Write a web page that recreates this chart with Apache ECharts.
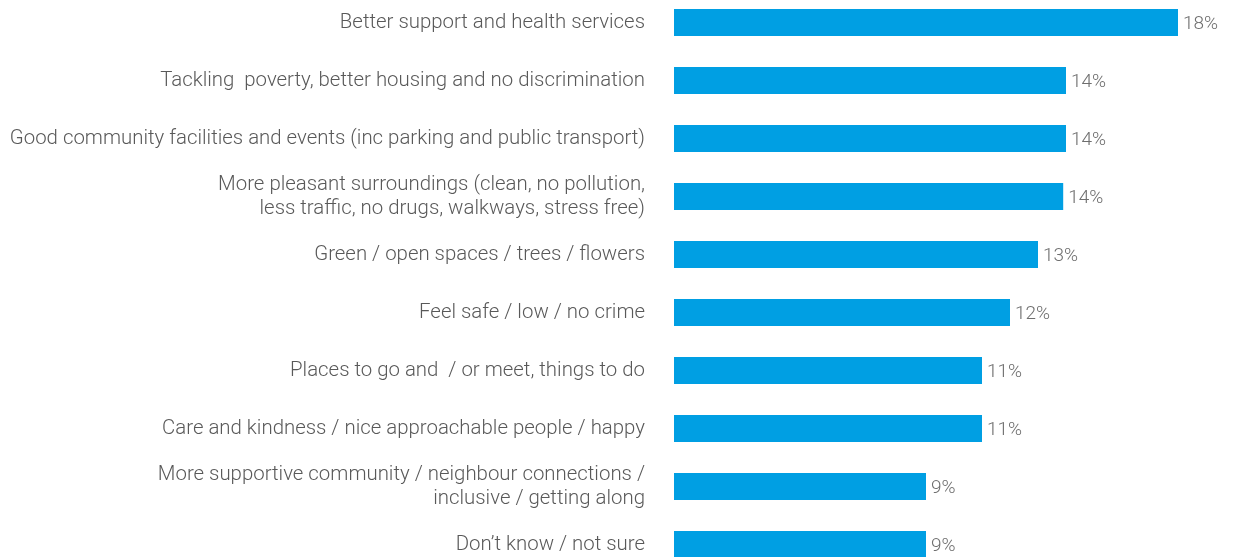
<!DOCTYPE html>
<html>
<head>
<meta charset="utf-8">
<script src="https://cdn.jsdelivr.net/npm/echarts@6/dist/echarts.min.js"></script>
<style>
  html, body { margin: 0; padding: 0; background: #ffffff; }
  #chart { width: 1233px; height: 557px; }
</style>
</head>
<body>
<div id="chart"></div>
<script>
const categories = [
  'Better support and health services',
  'Tackling  poverty, better housing and no discrimination',
  'Good community facilities and events (inc parking and public transport)',
  'More pleasant surroundings (clean, no pollution,\nless traffic, no drugs, walkways, stress free)',
  'Green / open spaces / trees / flowers',
  'Feel safe / low / no crime',
  'Places to go and  / or meet, things to do',
  'Care and kindness / nice approachable people / happy',
  'More supportive community / neighbour connections /\ninclusive / getting along',
  'Don\u2019t know / not sure'
];
const values = [18, 14, 14, 13.9, 13, 12, 11, 11, 9, 9];
const valueLabels = ['18%', '14%', '14%', '14%', '13%', '12%', '11%', '11%', '9%', '9%'];

const chart = echarts.init(document.getElementById('chart'), null, { renderer: 'canvas' });
chart.setOption({
  animation: false,
  backgroundColor: '#ffffff',
  grid: {
    left: 674, top: -6.5, width: 560, height: 580,
    containLabel: false,
    outerBoundsMode: 'none'
  },
  xAxis: {
    type: 'value', min: 0, max: 20,
    show: false
  },
  yAxis: {
    type: 'category',
    data: categories,
    inverse: true,
    axisLine: { show: false },
    axisTick: { show: false },
    splitLine: { show: false },
    axisLabel: {
      margin: 29,
      color: '#595959',
      fontFamily: 'Roboto',
      fontWeight: 300,
      fontSize: 20.4,
      lineHeight: 24,
      align: 'right'
    }
  },
  series: [{
    type: 'bar',
    data: values,
    barWidth: 27,
    itemStyle: { color: '#009FE3' },
    label: {
      show: true,
      position: 'right',
      distance: 5,
      offset: [0, 2],
      color: '#6e6e6e',
      fontFamily: 'Roboto',
      fontWeight: 300,
      fontSize: 19,
      formatter: function (p) { return valueLabels[p.dataIndex]; }
    }
  }]
});
</script>
</body>
</html>
